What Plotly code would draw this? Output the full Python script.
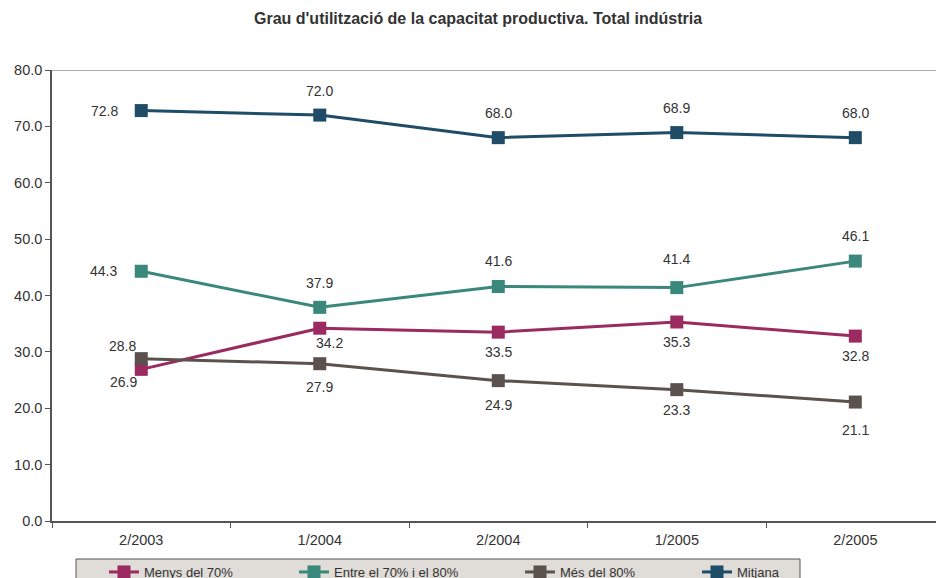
import plotly.graph_objects as go

categories = ["2/2003", "1/2004", "2/2004", "1/2005", "2/2005"]
menys = [26.9, 34.2, 33.5, 35.3, 32.8]
entre = [44.3, 37.9, 41.6, 41.4, 46.1]
mes = [28.8, 27.9, 24.9, 23.3, 21.1]
mitjana = [72.8, 72.0, 68.0, 68.9, 68.0]
y_ticks = [0, 10, 20, 30, 40, 50, 60, 70, 80]

# name, values, colour, label offsets (px), legend entry x (px)
series = [
    ("Menys del 70%", menys, "#9a2a5f", [(-18, -13), (10, -15), (0, -20), (0, -20), (0, -20)], 104),
    ("Entre el 70% i el 80%", entre, "#3a877b", [(-38, 0), (0, 24), (0, 25), (0, 29), (0, 25)], 294),
    ("Més del 80%", mes, "#5b524e", [(-19, 13), (0, -23), (0, -24), (0, -20), (0, -28)], 520),
    ("Mitjana", mitjana, "#1f4c66", [(-37, 0), (0, 24), (0, 25), (0, 25), (0, 25)], 697),
]

FONT = "Liberation Sans, Arial, sans-serif"
L, R_PX, T, B = 52, 936, 70, 521
PW, PH = 884, B - T


def px_x(p):
    return (p - L) / PW


def px_y(p):
    return (B - p) / PH


fig = go.Figure()
annotations = []
legends = {}
for k, (name, vals, color, offs, lx) in enumerate(series):
    lname = "legend" if k == 0 else f"legend{k + 1}"
    fig.add_trace(go.Scatter(
        x=categories, y=vals, name=name, mode="lines+markers",
        line=dict(color=color, width=3),
        marker=dict(symbol="square", size=13, color=color),
        hoverinfo="skip", legend=lname,
    ))
    legends[lname] = dict(
        orientation="h", x=px_x(lx), y=px_y(557), xanchor="left", yanchor="top",
        bgcolor="rgba(0,0,0,0)", borderwidth=0,
        font=dict(family=FONT, size=13, color="#333333"), itemwidth=30,
    )
    for i, v in enumerate(vals):
        dx, dy = offs[i]
        annotations.append(dict(
            x=categories[i], y=v, xref="x", yref="y", text=f"{v:.1f}", showarrow=False,
            xshift=dx, yshift=dy, font=dict(family=FONT, size=14, color="#333333"),
        ))

annotations.append(dict(
    x=px_x(478), y=1, xref="paper", yref="paper", yanchor="middle", yshift=T - 18,
    text="<b>Grau d'utilització de la capacitat productiva. Total indústria</b>",
    showarrow=False, font=dict(family=FONT, size=16, color="#333333"),
))

shapes = [
    dict(type="line", xref="paper", yref="y", x0=0, x1=1, y0=80, y1=80,
         line=dict(color="#a08c88", width=1.5)),
    dict(type="rect", xref="paper", yref="paper", x0=px_x(76), x1=px_x(800),
         y0=px_y(559), y1=px_y(600), fillcolor="#e0dcd8",
         line=dict(color="#555555", width=1), layer="below"),
]

fig.update_layout(
    width=936, height=578,
    margin=dict(l=L, r=0, t=T, b=578 - B, autoexpand=False),
    paper_bgcolor="white", plot_bgcolor="white",
    font=dict(family=FONT, size=14, color="#333333"),
    annotations=annotations, shapes=shapes,
    showlegend=True,
    xaxis=dict(
        type="category", range=[-0.5, 4.452],
        tickson="boundaries", ticks="outside", ticklen=5, tickcolor="#555555",
        ticklabelstandoff=5,
        showgrid=False, zeroline=False, showline=True, linecolor="#555555", linewidth=1.5,
        tickfont=dict(family=FONT, size=14.5, color="#333333"),
    ),
    yaxis=dict(
        range=[0, 80], tickvals=y_ticks, tickformat=".1f",
        ticks="outside", ticklen=5, tickcolor="#555555",
        showgrid=False, zeroline=False, showline=True, linecolor="#555555", linewidth=1.5,
        tickfont=dict(family=FONT, size=14.5, color="#333333"),
    ),
    **legends,
)

fig.write_html("out.html", config={"displayModeBar": False},
               post_script="document.body.style.margin='0';document.body.style.padding='0';")
